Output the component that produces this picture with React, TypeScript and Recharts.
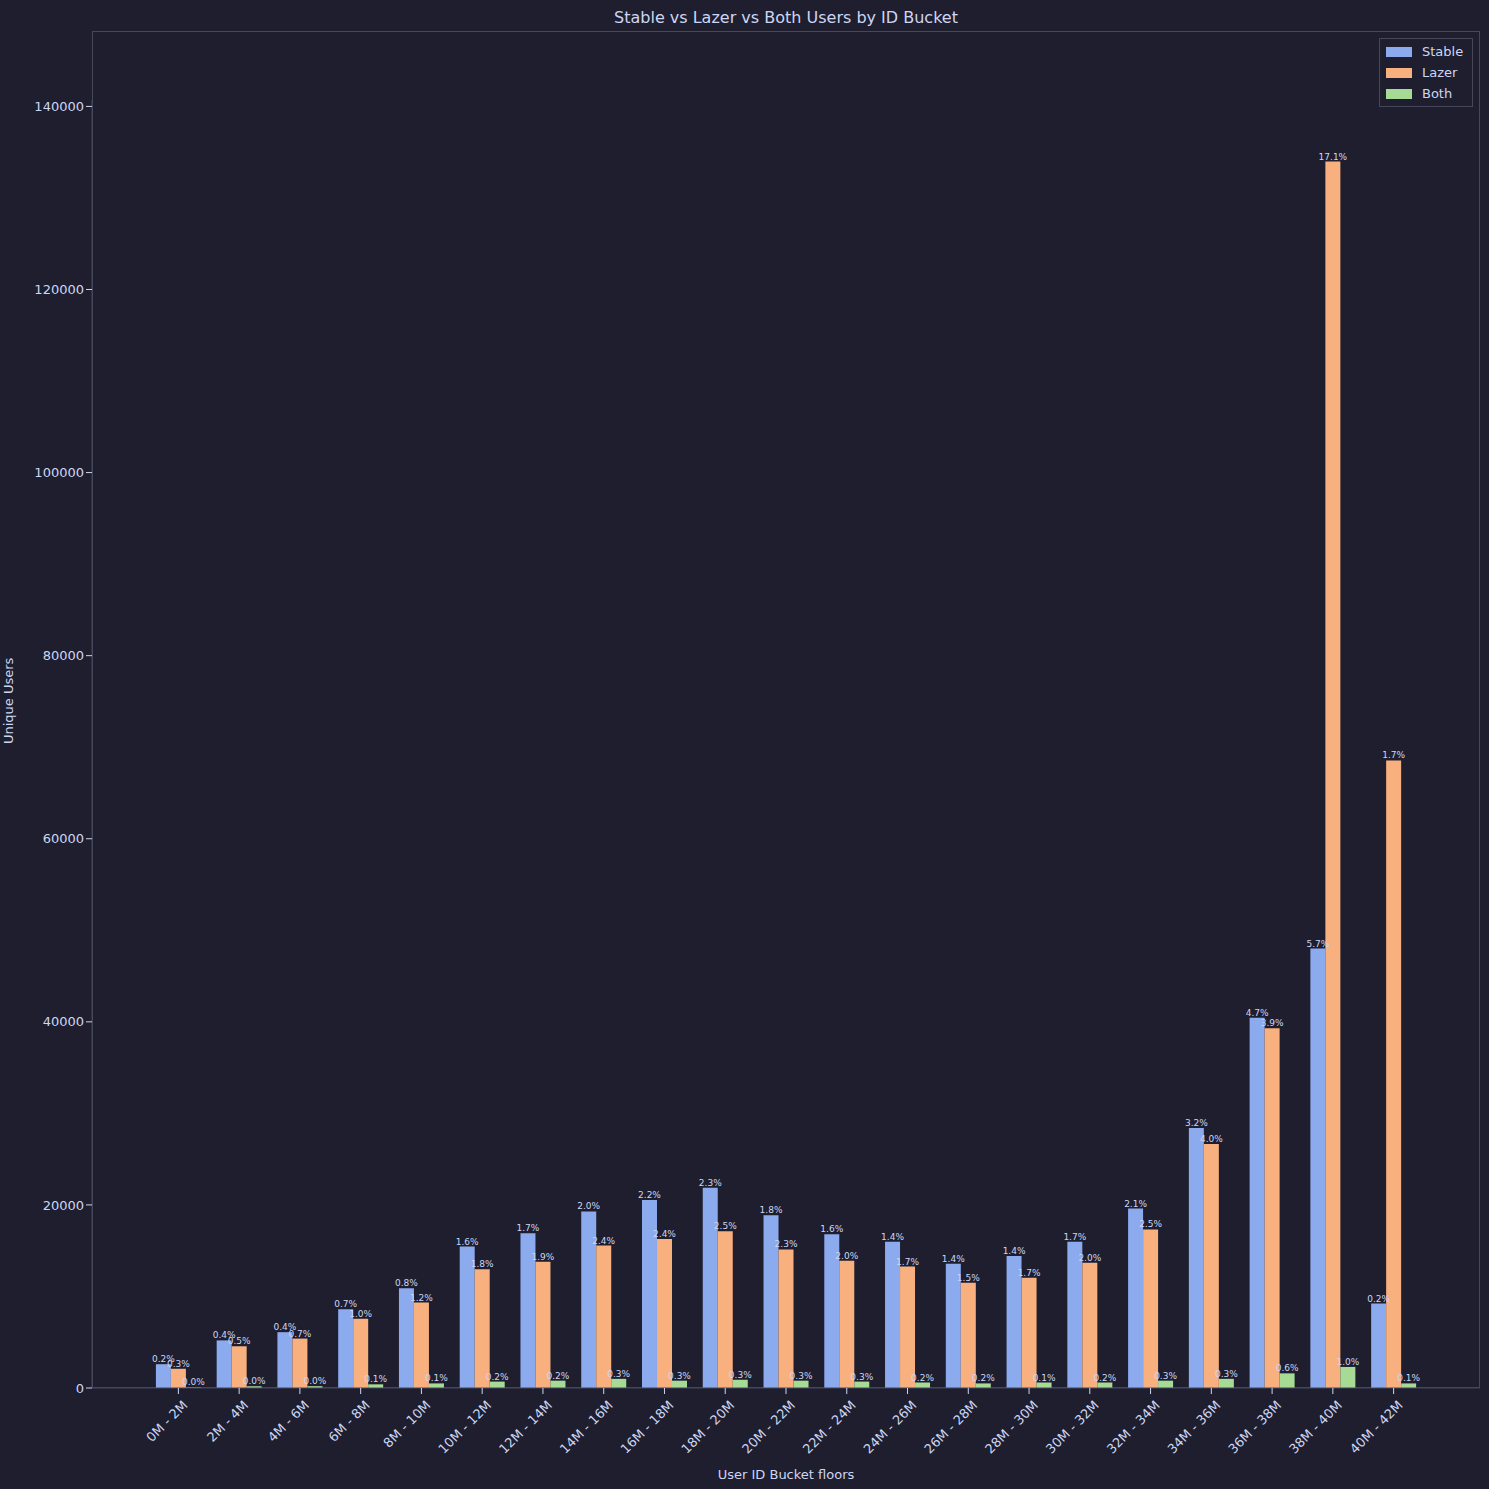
import React from "react";
import { BarChart, Bar, XAxis, YAxis, Legend, LabelList } from "recharts";

const buckets = ["0M - 2M","2M - 4M","4M - 6M","6M - 8M","8M - 10M","10M - 12M","12M - 14M","14M - 16M","16M - 18M","18M - 20M","20M - 22M","22M - 24M","24M - 26M","26M - 28M","28M - 30M","30M - 32M","32M - 34M","34M - 36M","36M - 38M","38M - 40M","40M - 42M"];
const stable = [2600,5200,6100,8600,10900,15450,16900,19290,20530,21880,18870,16800,15970,13580,14410,15970,19600,28410,40440,48010,9230];
const lazer = [2100,4560,5400,7570,9330,12960,13800,15560,16280,17110,15140,13900,13270,11510,12030,13690,17320,26650,39300,133980,68550];
const both = [60,200,200,400,500,700,800,1000,800,900,800,700,600,500,600,600,800,1000,1600,2300,500];
const stablePct = ["0.2","0.4","0.4","0.7","0.8","1.6","1.7","2.0","2.2","2.3","1.8","1.6","1.4","1.4","1.4","1.7","2.1","3.2","4.7","5.7","0.2"];
const lazerPct = ["0.3","0.5","0.7","1.0","1.2","1.8","1.9","2.4","2.4","2.5","2.3","2.0","1.7","1.5","1.7","2.0","2.5","4.0","3.9","17.1","1.7"];
const bothPct = ["0.0","0.0","0.0","0.1","0.1","0.2","0.2","0.3","0.3","0.3","0.3","0.3","0.2","0.2","0.1","0.2","0.3","0.3","0.6","1.0","0.1"];
const yTicks = [0,20000,40000,60000,80000,100000,120000,140000];

const data = buckets.map((b, i) => ({
  bucket: b,
  Stable: stable[i], Lazer: lazer[i], Both: both[i],
  sp: stablePct[i] + "%", lp: lazerPct[i] + "%", bp: bothPct[i] + "%",
}));

const BG = "#1e1e2e";
const TXT = "#cdd6f4";
const colors = { Stable: "#8caaee", Lazer: "#f8b07f", Both: "#a6da95" };

const XTick = (props: any) => {
  const { x, y, payload } = props;
  return (
    <text x={x + 10} y={y + 10} transform={`rotate(-45, ${x + 10}, ${y + 10})`} textAnchor="end" fill={TXT} fontSize={13}>
      {payload.value}
    </text>
  );
};

const LegendBox = () => (
  <div style={{ border: "1px solid #45475a", background: BG, padding: "2px 6px", width: 80 }}>
    {(["Stable", "Lazer", "Both"] as const).map((k) => (
      <div key={k} style={{ display: "flex", alignItems: "center", height: 21, color: TXT, fontSize: 13 }}>
        <span style={{ width: 26, height: 10, background: colors[k], marginRight: 10 }} />
        {k}
      </div>
    ))}
  </div>
);

export default function App() {
  return (
    <div style={{ position: "absolute", left: 0, top: 0, width: 1489, height: 1489, background: BG, fontFamily: "DejaVu Sans" }}>
      <div style={{ position: "absolute", left: 92, top: 31, width: 1388, height: 1357, border: "1px solid #45475a", boxSizing: "border-box" }} />
      <div style={{ position: "absolute", left: 92, width: 1388, top: 8, textAlign: "center", color: TXT, fontSize: 16 }}>
        Stable vs Lazer vs Both Users by ID Bucket
      </div>
      <BarChart width={1489} height={1489} data={data} margin={{ top: 31, right: 9, bottom: 0, left: 0 }} barCategoryGap="13%" barGap={0}>
        <XAxis dataKey="bucket" height={101} interval={0} tick={<XTick />} tickLine={{ stroke: TXT }} axisLine={{ stroke: "#45475a" }}
          padding={{ left: 56, right: 56 }}
          label={{ value: "User ID Bucket floors", position: "insideBottom", offset: 10, fill: TXT, fontSize: 13 }} />
        <YAxis width={92} domain={[0, 140700]} allowDataOverflow ticks={yTicks} tick={{ fill: TXT, fontSize: 13 }} tickLine={{ stroke: TXT }} axisLine={{ stroke: "#45475a" }}
          label={{ value: "Unique Users", angle: -90, position: "insideLeft", offset: 8, fill: TXT, fontSize: 13 }} />
        <Legend verticalAlign="top" align="right" wrapperStyle={{ top: 38, right: 16, width: "auto" }} content={<LegendBox />} />
        <Bar dataKey="Stable" fill={colors.Stable} isAnimationActive={false}>
          <LabelList dataKey="sp" position="top" offset={2} fill={TXT} fontSize={9} />
        </Bar>
        <Bar dataKey="Lazer" fill={colors.Lazer} isAnimationActive={false}>
          <LabelList dataKey="lp" position="top" offset={2} fill={TXT} fontSize={9} />
        </Bar>
        <Bar dataKey="Both" fill={colors.Both} isAnimationActive={false}>
          <LabelList dataKey="bp" position="top" offset={2} fill={TXT} fontSize={9} />
        </Bar>
      </BarChart>
    </div>
  );
}
